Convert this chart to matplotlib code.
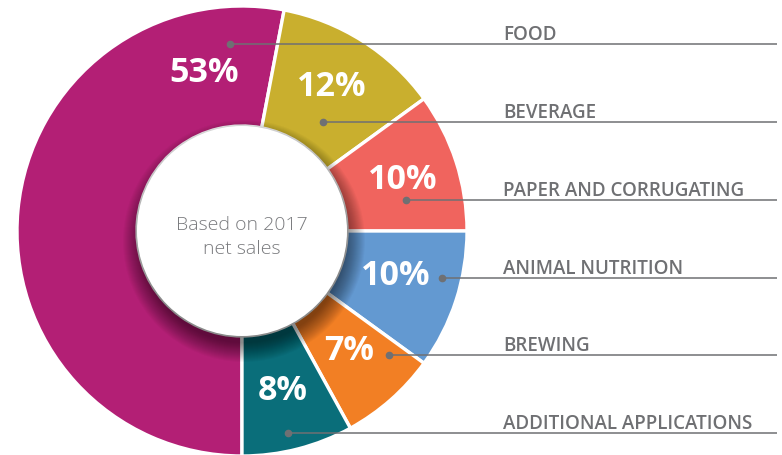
import matplotlib.pyplot as plt
from matplotlib.patches import Circle

# data
categories = ["FOOD", "BEVERAGE", "PAPER AND CORRUGATING",
              "ANIMAL NUTRITION", "BREWING", "ADDITIONAL APPLICATIONS"]
shares = [53, 12, 10, 10, 7, 8]
colors = ["#B31F75", "#C9AF2E", "#F0645E", "#6399D1", "#F27F24", "#0A6E7A"]
center_note = "Based on 2017\nnet sales"

# layout (pixel coords, y measured from top)
W, H = 782, 456
cx, cy = 242, 232
r_out, r_in = 225, 105
pct_pos = [(204, 73), (332, 87), (403, 180), (396, 276), (349, 351), (283, 391)]
row_y = [45, 123, 201, 279, 356, 434]
dot_x = [230, 323, 406, 442, 389, 288]
line_end = 777
label_x = 503
grey = "#6f7073"

Y = lambda py: H - py

fig = plt.figure(figsize=(W / 100, H / 100), dpi=100)
ax = fig.add_axes([0, 0, 1, 1])

ax.pie(shares, colors=colors, startangle=-90, counterclock=False,
       center=(cx, Y(cy)), radius=r_out,
       wedgeprops=dict(width=r_out - r_in, edgecolor="white", linewidth=2.4))

# soft drop shadow of the centre disc, thrown down and to the right
for k in range(20):
    ax.add_patch(Circle((cx + 2, Y(cy) - 10), r_in + 16 - k, facecolor="black",
                        edgecolor="none", alpha=0.028, zorder=3))
ax.add_patch(Circle((cx, Y(cy)), r_in, facecolor="white", edgecolor="none", zorder=4))

ax.text(cx, Y(237), center_note, ha="center", va="center", fontsize=14,
        fontweight="light", color="#7a7b7e", family="Open Sans",
        linespacing=1.4, zorder=5)

for (px, py), v in zip(pct_pos, shares):
    ax.text(px, Y(py), f"{v}%", ha="center", va="center", fontsize=24.5,
            fontweight="bold", color="white", family="Open Sans", zorder=5)

for name, ry, dx in zip(categories, row_y, dot_x):
    ax.plot([dx, line_end], [Y(ry), Y(ry)], color=grey, lw=1.1, zorder=6,
            solid_capstyle="butt")
    ax.plot(dx, Y(ry), "o", ms=4.5, color=grey, zorder=6)
    ax.text(label_x, Y(ry - 5), name, ha="left", va="baseline", fontsize=13.5,
            fontweight="semibold", color=grey, family="Open Sans", zorder=6)

ax.set_xlim(0, W)
ax.set_ylim(0, H)
ax.set_aspect("auto")
ax.axis("off")

fig.savefig("out.png", dpi=100, facecolor="white")
